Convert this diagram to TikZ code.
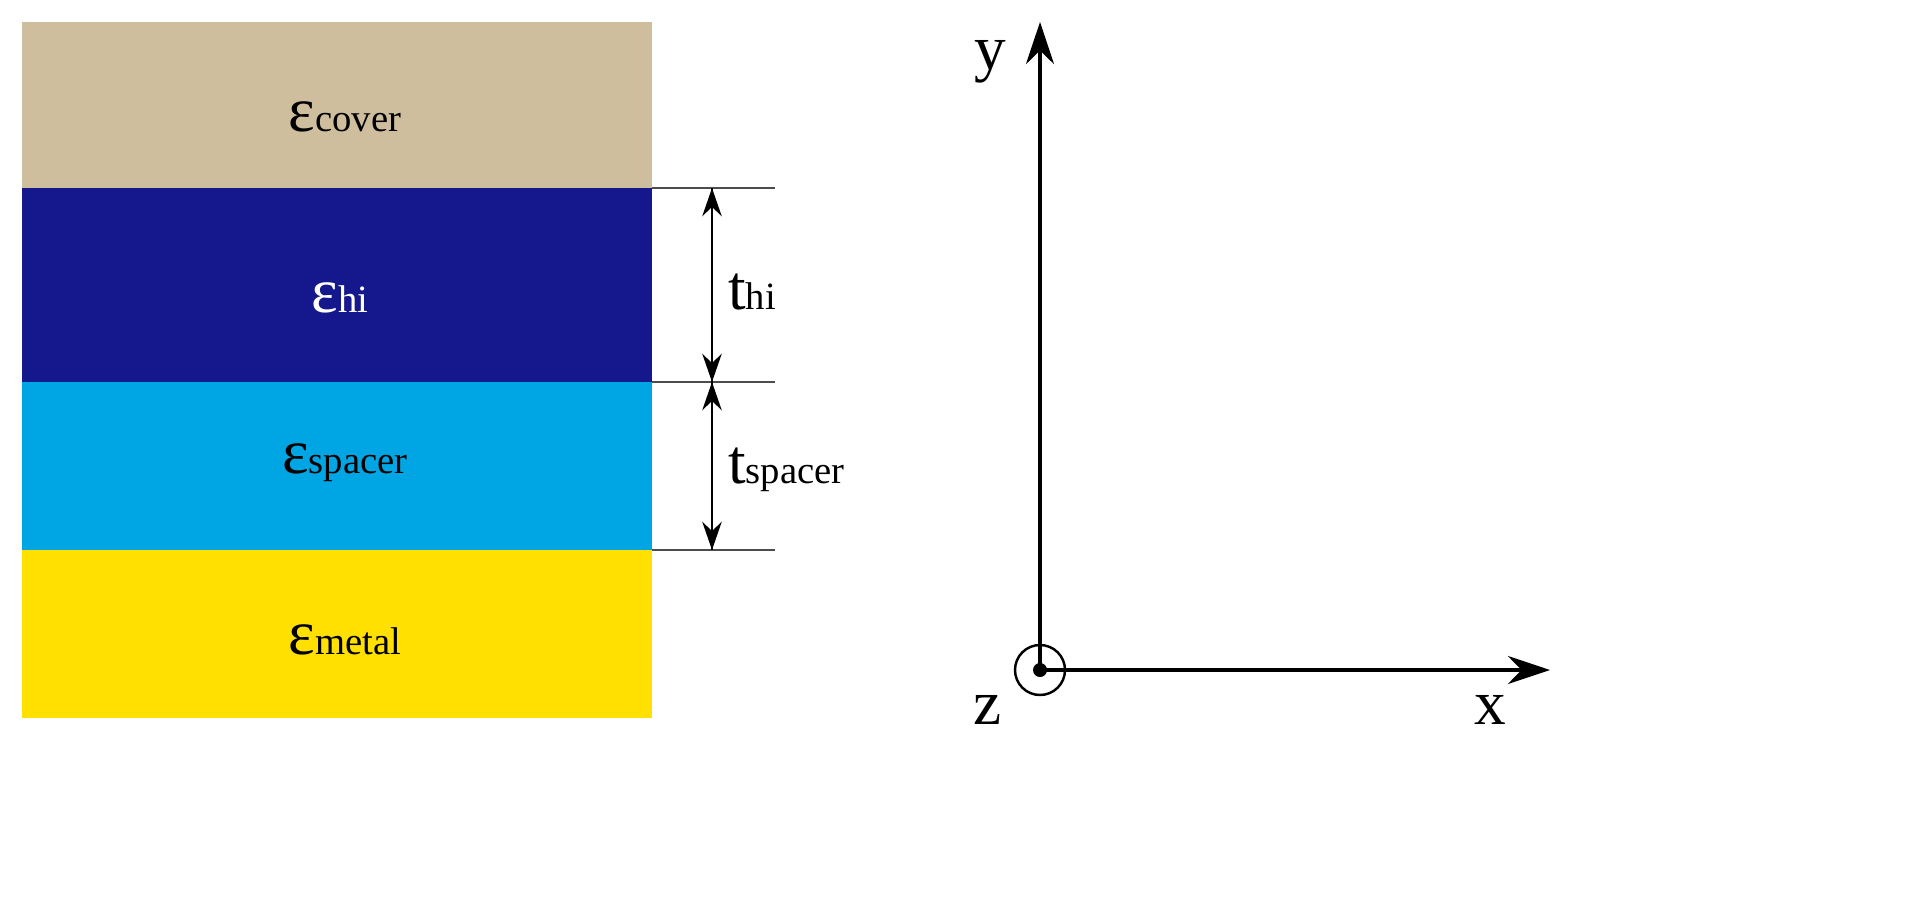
\documentclass[tikz,border=0pt]{standalone}
\usepackage{fontspec}
\setmainfont{Liberation Serif}
\usetikzlibrary{arrows.meta}
\definecolor{cover}{RGB}{207,190,158}
\definecolor{hi}{RGB}{20,24,140}
\definecolor{spacer}{RGB}{0,166,228}
\definecolor{metal}{RGB}{255,224,0}
\newcommand{\sbs}[1]{{\fontsize{22}{26}\selectfont #1}}
\tikzset{lab/.style={font=\fontsize{36}{40}\selectfont},
 dim/.style={line width=1.6pt,-{Stealth[length=16pt,width=11pt]}},
 ax/.style={line width=1.8pt,-{Stealth[length=24pt,width=16pt]}}}
\begin{document}
\begin{tikzpicture}[x=0.02cm,y=-0.02cm]
\useasboundingbox (0,0) rectangle (1928,916);
\fill[cover] (22,22) rectangle (652,188);
\fill[hi] (22,188) rectangle (652,382);
\fill[spacer] (22,382) rectangle (652,550);
\fill[metal] (22,550) rectangle (652,718);
\node[lab] (ec) at (345,117) {ε\sbs{cover}};
\node[lab,text=white] (eh) at (340,298) {ε\sbs{hi}};
\node[lab] (es) at (345,463) {ε\sbs{spacer}};
\node[lab] (em) at (345,640) {ε\sbs{metal}};
\coordinate (a) at (712,188); \coordinate (b) at (712,382); \coordinate (c) at (712,550);
\draw[line width=1.4pt,gray!60!black] (652,188) -- (775,188) (652,382) -- (775,382) (652,550) -- (775,550);
\draw[dim] (b) -- (a); \draw[dim] (a) -- (b);
\draw[dim] (c) -- (b); \draw[dim] (b) -- (c);
\node[lab,anchor=west] (th) at (722,292) {t\sbs{hi}};
\node[lab,anchor=west] (ts) at (722,470) {t\sbs{spacer}};
\coordinate (o) at (1040,670);
\coordinate (ye) at (1040,22); \coordinate (xe) at (1550,670);
\draw[ax] (o) -- (ye);
\draw[ax] (o) -- (xe);
\draw[line width=1.4pt] (o) circle (25);
\fill (o) circle (7);
\node[lab] (yl) at (990,62) {y};
\node[lab] (xl) at (1490,710) {x};
\node[lab] (zl) at (988,710) {z};
\end{tikzpicture}
\end{document}
